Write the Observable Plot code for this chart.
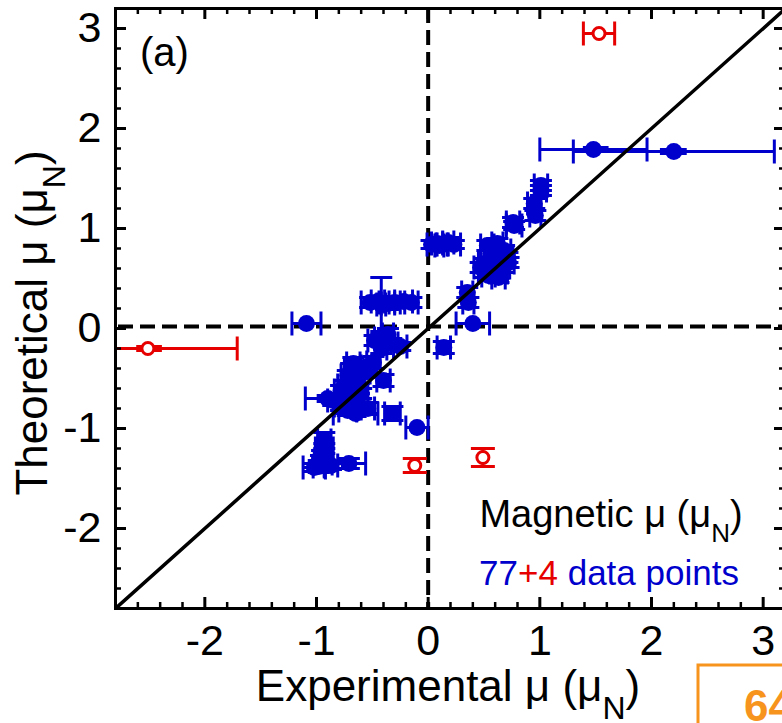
<!DOCTYPE html>
<html><head><meta charset="utf-8">
<script src="https://cdn.jsdelivr.net/npm/d3@7"></script>
<script src="https://cdn.jsdelivr.net/npm/@observablehq/plot@0.6"></script>
<style>
body{margin:0;background:#fff}
#chart svg{font-family:"Liberation Sans", Arial, sans-serif; display:block}
</style>
</head><body><div id="chart"></div>
<script>
// ---- data ----
const blueX = [2.20,1.48,-1.09,-0.10,0.40,0.14,-0.42,-0.52,-0.45,-0.36,-0.30,-0.22,-0.15,-0.48,-0.40,-0.33,-0.25,-0.42,-0.36,-0.67,-0.49,-0.40,-0.72,-0.63,-0.90,-0.78,-0.71,-0.67,-0.78,-0.54,-0.60,-0.57,-0.32,-0.72,-0.65,-0.69,-0.55,-0.75,-0.93,-0.93,-0.96,-1.02,-0.87,-0.71,-0.95,-0.98,0.03,0.08,0.13,0.18,0.23,0.10,0.35,0.36,0.47,0.51,0.58,0.63,0.67,0.53,0.62,0.68,0.71,0.59,0.54,0.63,0.50,0.56,0.77,0.76,0.95,0.96,1.01,1.01,-0.62,-0.85,0.72];
const blueY = [1.77,1.79,0.05,-0.99,0.05,-0.19,0.24,0.26,0.27,0.25,0.26,0.27,0.26,-0.12,-0.10,-0.15,-0.18,-0.20,-0.06,-0.35,-0.34,-0.52,-0.47,-0.54,-0.70,-0.62,-0.69,-0.75,-0.77,-0.80,-0.65,-0.44,-0.85,-0.82,-0.85,-0.40,-0.38,-0.57,-1.12,-1.20,-1.32,-1.39,-1.37,-1.35,-1.26,-1.38,0.84,0.85,0.84,0.86,0.84,0.83,0.36,0.26,0.61,0.56,0.60,0.56,0.61,0.83,0.85,0.78,0.71,0.68,0.53,0.51,0.65,0.75,1.03,1.06,1.25,1.13,1.43,1.38,-0.60,-0.72,0.66];
const blueErrX = [0.90,0.48,0.13,0.10,0.15,0.06,0.04,0.08,0.06,0.06,0.05,0.08,0.06,0.06,0.08,0.06,0.06,0.05,0.05,0.06,0.06,0.06,0.06,0.05,0.20,0.06,0.06,0.08,0.06,0.06,0.06,0.05,0.07,0.08,0.20,0.06,0.05,0.06,0.06,0.08,0.06,0.10,0.06,0.15,0.06,0.05,0.04,0.05,0.05,0.05,0.06,0.04,0.05,0.05,0.06,0.06,0.06,0.08,0.06,0.06,0.05,0.06,0.05,0.06,0.06,0.06,0.05,0.05,0.07,0.06,0.06,0.05,0.06,0.05,0.05,0.05,0.05];
const blueErrY = [0,0,0,0,0,0.06,0.27,0.05,0.05,0.06,0.05,0.05,0.05,0.05,0.06,0.05,0.04,0.05,0.06,0.06,0.06,0.06,0.05,0.05,0.03,0.05,0.05,0.05,0.05,0.06,0.05,0.05,0.07,0.05,0.03,0.05,0.05,0.05,0.08,0.05,0.05,0.04,0.04,0.05,0.04,0.06,0.04,0.05,0.05,0.05,0.04,0.04,0.05,0.05,0.05,0.05,0.05,0.06,0.05,0.05,0.05,0.05,0.05,0.05,0.05,0.05,0.05,0.05,0.04,0.05,0.05,0.05,0.05,0.05,0.05,0.05,0.05];
// second (thick) uncertainty segments
const thickY  = [1.79, 1.77, -0.20];
const thickX1 = [1.39, 2.08, -2.61];
const thickX2 = [1.62, 2.32, -2.38];

const redX   = [1.53, -2.51, -0.12, 0.49];
const redY   = [2.95, -0.20, -1.37, -1.29];
const redXLo = [1.39, -3.40, -0.12, 0.49];
const redXHi = [1.67, -1.71, -0.12, 0.49];
const redYLo = [2.95, -0.20, -1.44, -1.38];
const redYHi = [2.95, -0.20, -1.30, -1.20];

const diagonal = [-2.8, 3.2];
const zeroX = [0];
const zeroY = [0.02];
const xTicks = [-2, -1, 0, 1, 2, 3];
const yTicks = [-2, -1, 0, 1, 2, 3];
const minorTicks = d3.range(-26, 32, 2).map(v => v / 10).filter(v => !Number.isInteger(v));

const BLUE = "#0000cc", RED = "#e60000", ORANGE = "#f7941d";
const W = 782, H = 723, ML = 115, MR = -3, MT = 8, MB = 115;
const PW = W - ML - MR, PH = H - MT - MB;

const capV = {draw(ctx, size) { const r = Math.sqrt(size / Math.PI); ctx.moveTo(0, -r); ctx.lineTo(0, r); }};
const capH = {draw(ctx, size) { const r = Math.sqrt(size / Math.PI); ctx.moveTo(-r, 0); ctx.lineTo(r, 0); }};

const bi = d3.range(blueX.length);
const biX = bi.filter(i => blueErrX[i] > 0);
const biY = bi.filter(i => blueErrY[i] > 0);
const ri = d3.range(redX.length);
const riX = ri.filter(i => redXHi[i] > redXLo[i]);
const riY = ri.filter(i => redYHi[i] > redYLo[i]);
const ti = d3.range(thickY.length);

const chart = Plot.plot({
  width: W, height: H,
  marginLeft: ML, marginRight: MR, marginTop: MT, marginBottom: MB,
  x: {domain: [-2.8, 3.2]},
  y: {domain: [-2.8, 3.2]},
  style: {background: "white", overflow: "hidden", fontFamily: "Liberation Sans, Arial, sans-serif"},
  marks: [
    // axes labels
    Plot.axisX(xTicks, {tickSize: 0, tickPadding: 16, fontSize: 43, tickFormat: d => String(d), label: null, fill: "black"}),
    Plot.axisY(yTicks, {tickSize: 0, tickPadding: 14, fontSize: 43, tickFormat: d => String(d), label: null, fill: "black"}),
    // reference lines
    Plot.ruleX(zeroX, {x: d => d, stroke: "black", strokeWidth: 4, strokeDasharray: "15,7"}),
    Plot.ruleY(zeroY, {y: d => d, stroke: "black", strokeWidth: 4, strokeDasharray: "15,7", strokeDashoffset: -3}),
    // blue error bars
    Plot.ruleY(biX, {y: i => blueY[i], x1: i => blueX[i] - blueErrX[i], x2: i => blueX[i] + blueErrX[i], stroke: BLUE, strokeWidth: 3, clip: true}),
    Plot.ruleX(biY, {x: i => blueX[i], y1: i => blueY[i] - blueErrY[i], y2: i => blueY[i] + blueErrY[i], stroke: BLUE, strokeWidth: 3, clip: true}),
    Plot.dot(biX, {x: i => blueX[i] - blueErrX[i], y: i => blueY[i], symbol: capV, r: 12, stroke: BLUE, strokeWidth: 3, fill: "none"}),
    Plot.dot(biX, {x: i => blueX[i] + blueErrX[i], y: i => blueY[i], symbol: capV, r: 12, stroke: BLUE, strokeWidth: 3, fill: "none"}),
    Plot.dot(biY, {x: i => blueX[i], y: i => blueY[i] - blueErrY[i], symbol: capH, r: 11, stroke: BLUE, strokeWidth: 3, fill: "none"}),
    Plot.dot(biY, {x: i => blueX[i], y: i => blueY[i] + blueErrY[i], symbol: capH, r: 11, stroke: BLUE, strokeWidth: 3, fill: "none"}),
    Plot.ruleY(ti.slice(0, 2), {y: i => thickY[i], x1: i => thickX1[i], x2: i => thickX2[i], stroke: BLUE, strokeWidth: 7}),
    Plot.dot(bi, {x: i => blueX[i], y: i => blueY[i], r: 8.5, fill: BLUE}),
    // red error bars
    Plot.ruleY(riX, {y: i => redY[i], x1: i => redXLo[i], x2: i => redXHi[i], stroke: RED, strokeWidth: 3, clip: true}),
    Plot.ruleX(riY, {x: i => redX[i], y1: i => redYLo[i], y2: i => redYHi[i], stroke: RED, strokeWidth: 3}),
    Plot.dot(riX.filter(i => redXLo[i] > -2.8), {x: i => redXLo[i], y: i => redY[i], symbol: capV, r: 12, stroke: RED, strokeWidth: 3, fill: "none"}),
    Plot.dot(riX, {x: i => redXHi[i], y: i => redY[i], symbol: capV, r: 12, stroke: RED, strokeWidth: 3, fill: "none"}),
    Plot.dot(riY, {x: i => redX[i], y: i => redYLo[i], symbol: capH, r: 12, stroke: RED, strokeWidth: 3, fill: "none"}),
    Plot.dot(riY, {x: i => redX[i], y: i => redYHi[i], symbol: capH, r: 12, stroke: RED, strokeWidth: 3, fill: "none"}),
    Plot.ruleY(ti.slice(2), {y: i => thickY[i], x1: i => thickX1[i], x2: i => thickX2[i], stroke: RED, strokeWidth: 7}),
    Plot.dot(ri, {x: i => redX[i], y: i => redY[i], r: 6, fill: "white", stroke: RED, strokeWidth: 3}),
    // diagonal y = x
    Plot.line(diagonal, {x: d => d, y: d => d, stroke: "black", strokeWidth: 3.5, clip: true}),
    // inward ticks on all four sides
    Plot.tickX(xTicks, {x: d => d, insetBottom: PH - 11, stroke: "black", strokeWidth: 3}),
    Plot.tickX(xTicks, {x: d => d, insetTop: PH - 11, stroke: "black", strokeWidth: 3}),
    Plot.tickX(minorTicks, {x: d => d, insetBottom: PH - 6, stroke: "black", strokeWidth: 2.5}),
    Plot.tickX(minorTicks, {x: d => d, insetTop: PH - 6, stroke: "black", strokeWidth: 2.5}),
    Plot.tickY(yTicks, {y: d => d, insetRight: PW - 11, stroke: "black", strokeWidth: 3}),
    Plot.tickY(yTicks, {y: d => d, insetLeft: PW - 11, stroke: "black", strokeWidth: 3}),
    Plot.tickY(minorTicks, {y: d => d, insetRight: PW - 6, stroke: "black", strokeWidth: 2.5}),
    Plot.tickY(minorTicks, {y: d => d, insetLeft: PW - 6, stroke: "black", strokeWidth: 2.5}),
    Plot.frame({stroke: "black", strokeWidth: 3})
  ]
});

document.getElementById("chart").appendChild(chart);
const svg = d3.select(chart);

// axis titles with subscripts
function muTitle(g, text, size, subSize, shift) {
  const t = g.append("text").attr("fill", "black").attr("font-size", size).attr("text-anchor", "middle");
  t.append("tspan").text(text);
  t.append("tspan").attr("font-size", subSize).attr("dy", shift).text("N");
  t.append("tspan").attr("dy", -shift).text(")");
  return t;
}
muTitle(svg.append("g").attr("transform", "translate(448,701)"), "Experimental μ (μ", 44, 32, 18);
muTitle(svg.append("g").attr("transform", "translate(47,323) rotate(-90)"), "Theoretical μ (μ", 44, 32, 18);

// panel label
svg.append("text").attr("x", 140).attr("y", 66).attr("font-size", 40).attr("fill", "black")
  .attr("text-anchor", "start").text("(a)");

// annotation
muTitle(svg.append("g").attr("transform", "translate(611,527)"), "Magnetic μ (μ", 38, 26, 15);
const t2 = svg.append("text").attr("x", 609).attr("y", 585).attr("font-size", 35).attr("text-anchor", "middle");
t2.append("tspan").attr("fill", BLUE).text("77");
t2.append("tspan").attr("fill", RED).text("+4");
t2.append("tspan").attr("fill", BLUE).text(" data points");

// fragment of the neighbouring panel (cut off at the edge)
svg.append("rect").attr("x", 698).attr("y", 665).attr("width", 200).attr("height", 120)
  .attr("fill", "none").attr("stroke", ORANGE).attr("stroke-width", 3);
svg.append("text").attr("x", 744).attr("y", 721).attr("font-size", 44).attr("font-weight", "bold")
  .attr("text-anchor", "start").attr("fill", ORANGE).text("64");
</script>
</body></html>
